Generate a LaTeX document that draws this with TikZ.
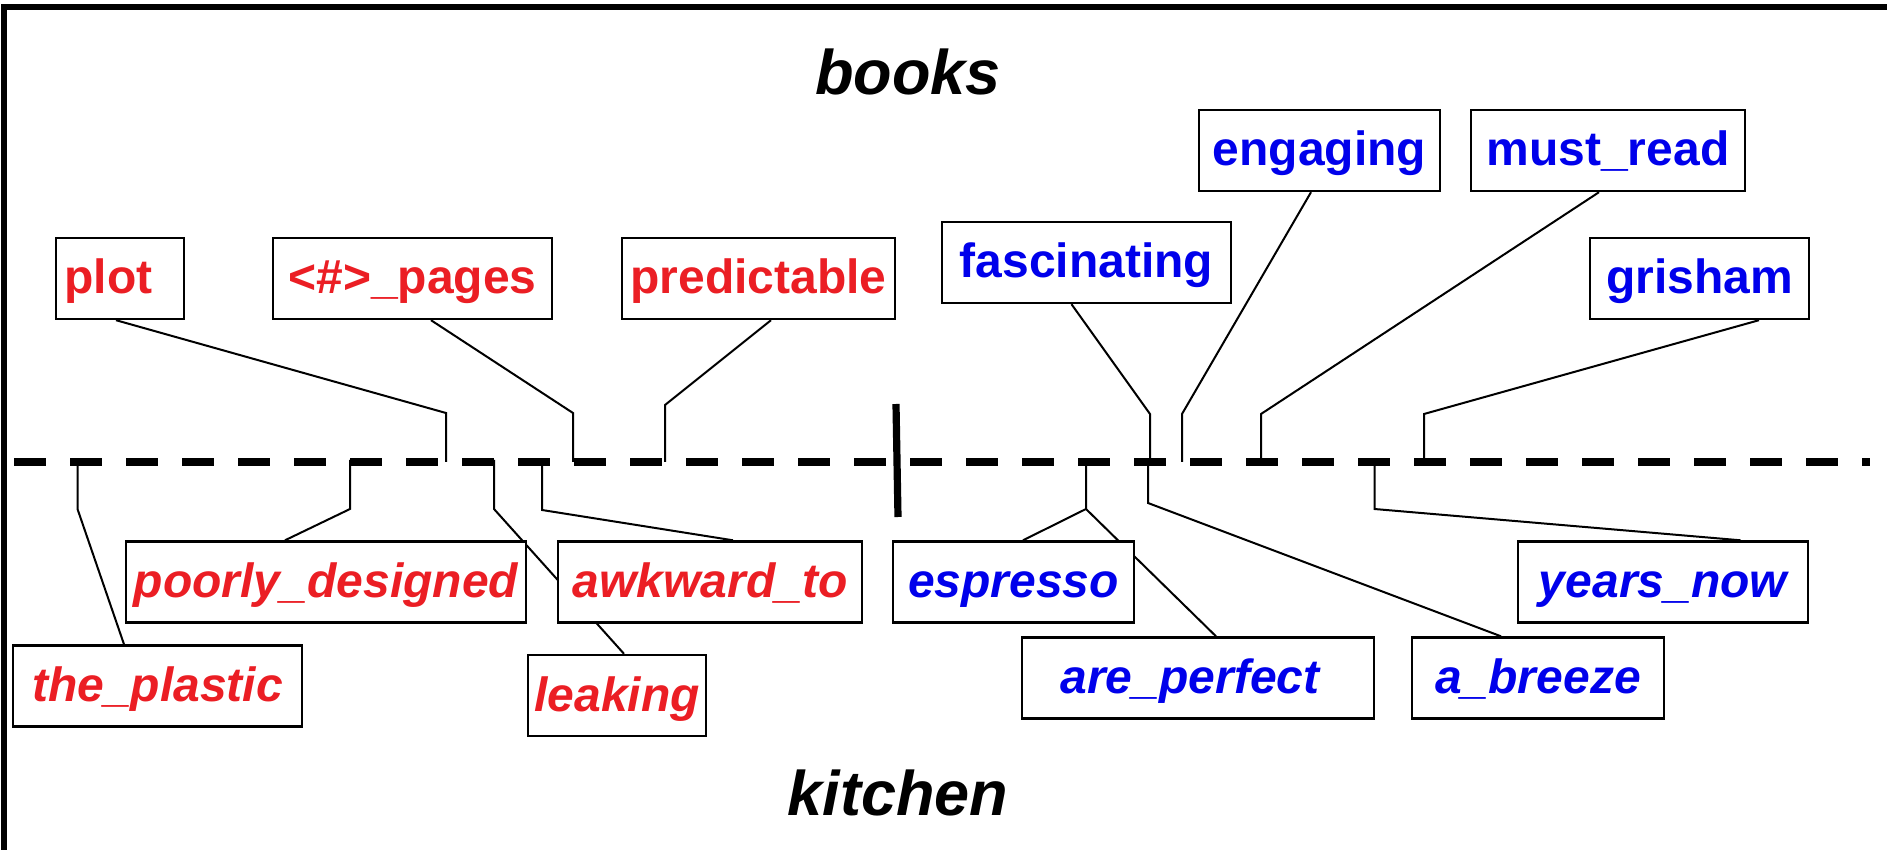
\documentclass[tikz,border=0pt]{standalone}
\usepackage{fontspec}
\setmainfont{Liberation Sans}
\definecolor{wred}{RGB}{235,30,36}
\definecolor{wblue}{RGB}{0,0,235}
\pgfdeclarelayer{bg}
\pgfsetlayers{bg,main}
\begin{document}
\begin{tikzpicture}[x=0.5pt,y=-0.5pt,
  wbox/.style={draw=black, line width=1.2pt, fill=white, inner xsep=0pt, inner ysep=0pt,
    text height=28pt, text depth=12.5pt, anchor=center,
    font=\fontsize{24}{28}\selectfont\bfseries},
  redup/.style={wbox, text=wred},
  blueup/.style={wbox, text=wblue},
  reddown/.style={wbox, text=wred, font=\fontsize{24}{28}\selectfont\bfseries\itshape},
  bluedown/.style={wbox, text=wblue, font=\fontsize{24}{28}\selectfont\bfseries\itshape},
  conn/.style={line width=1pt, line join=miter},
  title/.style={font=\fontsize{31.5}{36}\selectfont\bfseries\itshape, anchor=base, inner sep=0pt}
]
\useasboundingbox (0,0) rectangle (1887,850);
% frame
\draw[line width=2.7pt, line join=miter] (4,850) -- (4,7) -- (1887,7);

% titles
\node[title] (books) at (908,95) {books};
\node[title] (kitchen) at (898,815) {kitchen};

% upper boxes
\node[redup, minimum width=64pt] (plot) at (120,278.5) {plot\kern11.5pt};
\node[redup, minimum width=139.5pt] (pages) at (412.5,278.5) {<\#>\_pages};
\node[redup, minimum width=136.5pt] (predictable) at (758.5,278.5) {predictable};
\node[blueup, minimum width=144.5pt] (fascinating) at (1086.5,262.5) {fascinating};
\node[blueup, minimum width=120.5pt] (engaging) at (1319.5,150.5) {engaging};
\node[blueup, minimum width=136.75pt] (mustread) at (1608,150.5) {must\_read};
\node[blueup, minimum width=109.5pt] (grisham) at (1699.5,278.5) {grisham};

% lower boxes
\node[reddown, minimum width=144.5pt] (plastic) at (157.5,686) {the\_plastic};
\node[reddown, minimum width=200.25pt] (poorly) at (326,582) {poorly\_designed};
\node[reddown, minimum width=152.25pt] (awkward) at (710,582) {awkward\_to};
\node[reddown, minimum width=89pt] (leaking) at (617,695.5) {leaking};
\node[bluedown, minimum width=120.5pt] (espresso) at (1013.5,582) {espresso};
\node[bluedown, minimum width=176pt] (perfect) at (1198,678) {are\_perfect\kern8pt};
\node[bluedown, minimum width=125.75pt] (breeze) at (1538,678) {a\_breeze};
\node[bluedown, minimum width=145pt] (years) at (1663,582) {years\_now};

% dashed divider and separator
\coordinate (dL) at (14,462);
\coordinate (dR) at (1870,462);
\draw[line width=3.6pt, dash pattern=on 16pt off 12pt] (dL) -- (dR);
\coordinate (sepT) at (896,404);
\coordinate (sepB) at (898,517);
\draw[line width=3.6pt] (sepT) -- (sepB);

% bend and end coordinates
\coordinate (bPlot) at (446,413);   \coordinate (ePlot) at (446,462);
\coordinate (bPages) at (573,413);  \coordinate (ePages) at (573,462);
\coordinate (bPred) at (665,405);   \coordinate (ePred) at (665,462);
\coordinate (bFasc) at (1150,414);  \coordinate (eFasc) at (1150,462);
\coordinate (bEng) at (1182,414);   \coordinate (eEng) at (1182,462);
\coordinate (bMust) at (1261,414);  \coordinate (eMust) at (1261,462);
\coordinate (bGris) at (1424,414);  \coordinate (eGris) at (1424,462);

\coordinate (sPlast) at (77.5,460);  \coordinate (bPlast) at (77.5,509);
\coordinate (sPoor) at (350,460);    \coordinate (bPoor) at (350,509);
\coordinate (sAwk) at (542,460);     \coordinate (bAwk) at (542,510);
\coordinate (sLeak) at (494,460);    \coordinate (bLeak) at (494,509);
\coordinate (sEsp) at (1086,460);    \coordinate (bEsp) at (1086,509);
\coordinate (sBree) at (1148,460);   \coordinate (bBree) at (1148,503);
\coordinate (sYear) at (1374.5,460); \coordinate (bYear) at (1374.5,509);

\begin{pgfonlayer}{bg}
\draw[conn] ([xshift=-2pt]plot.south) -- (bPlot) -- (ePlot);
\draw[conn] ([xshift=9.25pt]pages.south) -- (bPages) -- (ePages);
\draw[conn] ([xshift=6.25pt]predictable.south) -- (bPred) -- (ePred);
\draw[conn] ([xshift=-7.5pt]fascinating.south) -- (bFasc) -- (eFasc);
\draw[conn] ([xshift=-4.25pt]engaging.south) -- (bEng) -- (eEng);
\draw[conn] ([xshift=-4.5pt]mustread.south) -- (bMust) -- (eMust);
\draw[conn] ([xshift=29.75pt]grisham.south) -- (bGris) -- (eGris);

\draw[conn] (sPlast) -- (bPlast) -- ([xshift=-16.75pt]plastic.north);
\draw[conn] (sPoor) -- (bPoor) -- ([xshift=-20.5pt]poorly.north);
\draw[conn] (sAwk) -- (bAwk) -- ([xshift=11.5pt]awkward.north);
\draw[conn] (sLeak) -- (bLeak) -- ([xshift=3.5pt]leaking.north);
\draw[conn] (sEsp) -- (bEsp) -- ([xshift=4.75pt]espresso.north);
\draw[conn] (bEsp) -- ([xshift=9pt]perfect.north);
\draw[conn] (sBree) -- (bBree) -- ([xshift=-18.5pt]breeze.north);
\draw[conn] (sYear) -- (bYear) -- ([xshift=38.8pt]years.north);
\end{pgfonlayer}
\end{tikzpicture}
\end{document}
